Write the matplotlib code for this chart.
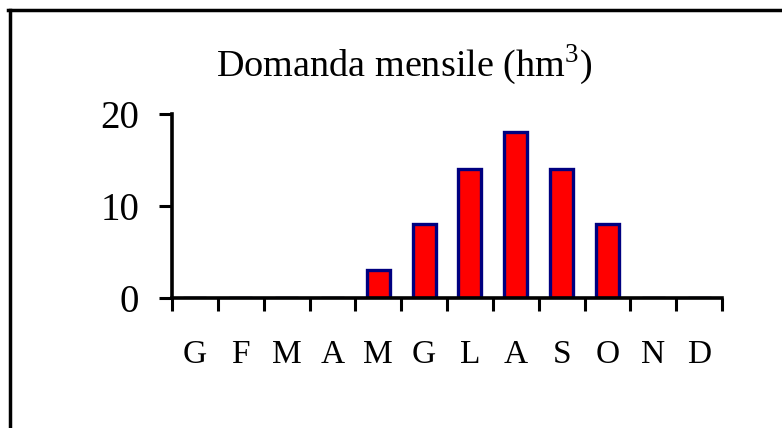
import matplotlib.pyplot as plt
from matplotlib.lines import Line2D

mesi = ['G', 'F', 'M', 'A', 'M', 'G', 'L', 'A', 'S', 'O', 'N', 'D']
domanda = [0, 0, 0, 0, 3, 8, 14, 18, 14, 8, 0, 0]

plt.rcParams['font.family'] = 'Liberation Serif'
plt.rcParams['mathtext.fontset'] = 'custom'
plt.rcParams['mathtext.rm'] = 'Liberation Serif'

fig = plt.figure(figsize=(7.82, 4.28), dpi=100)
ax = fig.add_axes([172 / 782, 1 - 298 / 428, 550 / 782, 184 / 428])

x = list(range(len(mesi)))
ax.bar(x, domanda, width=0.5, color='#ff0000', edgecolor='#000080', linewidth=2.4)

ax.set_xlim(-0.5, len(mesi) - 0.5)
ax.set_ylim(0, 20)
ax.set_yticks([0, 10, 20])
ax.set_xticks([i - 0.5 for i in range(len(mesi) + 1)])
ax.set_xticklabels([])
# etichette dei mesi al centro delle categorie
ax.set_xticks(x, minor=True)
ax.set_xticklabels(mesi, minor=True, fontsize=24)
ax.tick_params(axis='x', which='minor', length=0, pad=30)
ax.tick_params(axis='x', which='major', direction='out', length=9, width=2.2)
ax.tick_params(axis='y', direction='out', length=9.5, width=2.2, labelsize=28, pad=14)

for s in ['top', 'right']:
    ax.spines[s].set_visible(False)
for s in ['left', 'bottom']:
    ax.spines[s].set_linewidth(2.6)
    ax.spines[s].set_zorder(5)

fig.text(404 / 782, 1 - 76 / 428, r'Domanda mensile (hm$^{\mathrm{3}}$)', ha='center', va='baseline',
         fontsize=27.5)

# cornice (solo lati sinistro e superiore visibili)
fig.add_artist(Line2D([9.5 / 782, 9.5 / 782], [0, 1 - 9.5 / 428], color='black', lw=2.5,
                      transform=fig.transFigure))
fig.add_artist(Line2D([8 / 782, 1], [1 - 9.5 / 428, 1 - 9.5 / 428], color='black', lw=2.5,
                      transform=fig.transFigure))

fig.savefig('out.png', dpi=100)
